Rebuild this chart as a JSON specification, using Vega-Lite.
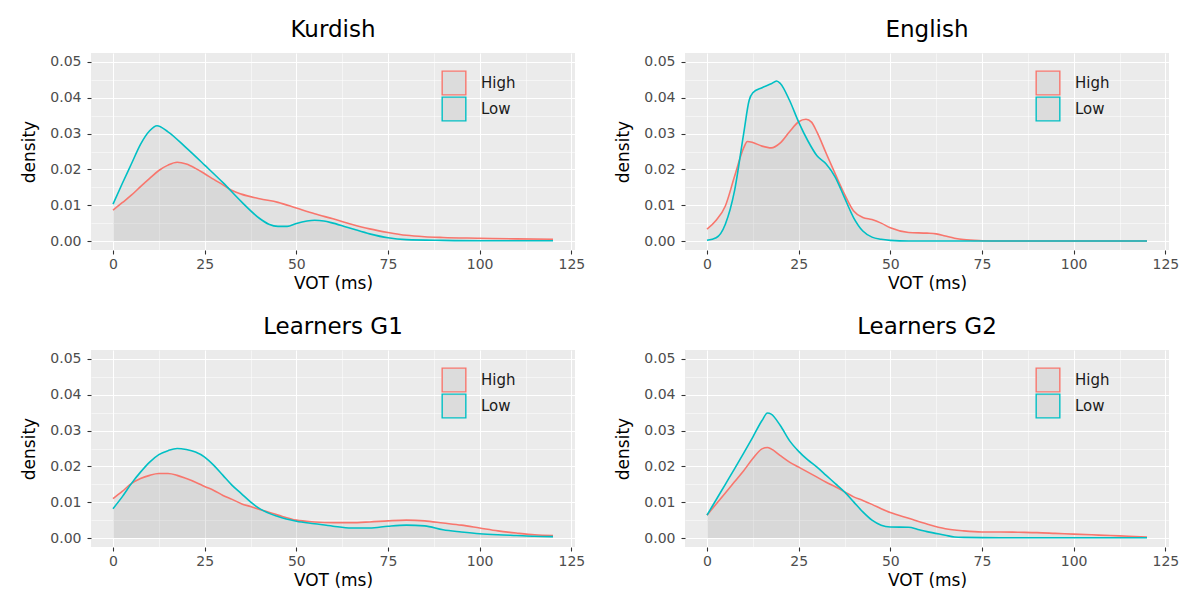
{
  "$schema": "https://vega.github.io/schema/vega-lite/v6.json",
  "background": "white",
  "padding": {"left": 20, "top": 19, "right": 5, "bottom": 0},
  "datasets": {
    "dens": [
      {"panel":"Kurdish","group":"High","vot":0,"density":0.0086},{"panel":"Kurdish","group":"High","vot":2.5,"density":0.0107},{"panel":"Kurdish","group":"High","vot":5,"density":0.0128},{"panel":"Kurdish","group":"High","vot":7.5,"density":0.0152},{"panel":"Kurdish","group":"High","vot":10,"density":0.0175},{"panel":"Kurdish","group":"High","vot":12.5,"density":0.0197},{"panel":"Kurdish","group":"High","vot":15,"density":0.0212},{"panel":"Kurdish","group":"High","vot":17.5,"density":0.022},{"panel":"Kurdish","group":"High","vot":20,"density":0.0215},{"panel":"Kurdish","group":"High","vot":22.5,"density":0.0203},{"panel":"Kurdish","group":"High","vot":25,"density":0.0188},{"panel":"Kurdish","group":"High","vot":27.5,"density":0.0172},{"panel":"Kurdish","group":"High","vot":30,"density":0.0157},{"panel":"Kurdish","group":"High","vot":32.5,"density":0.0141},{"panel":"Kurdish","group":"High","vot":35,"density":0.0131},{"panel":"Kurdish","group":"High","vot":40,"density":0.0118},{"panel":"Kurdish","group":"High","vot":45,"density":0.0108},{"panel":"Kurdish","group":"High","vot":50,"density":0.0092},{"panel":"Kurdish","group":"High","vot":55,"density":0.0076},{"panel":"Kurdish","group":"High","vot":60,"density":0.0062},{"panel":"Kurdish","group":"High","vot":65,"density":0.0047},{"panel":"Kurdish","group":"High","vot":70,"density":0.0034},{"panel":"Kurdish","group":"High","vot":75,"density":0.0024},{"panel":"Kurdish","group":"High","vot":80,"density":0.0016},{"panel":"Kurdish","group":"High","vot":85,"density":0.0012},{"panel":"Kurdish","group":"High","vot":90,"density":0.001},{"panel":"Kurdish","group":"High","vot":100,"density":0.0008},{"panel":"Kurdish","group":"High","vot":110,"density":0.0006},{"panel":"Kurdish","group":"High","vot":120,"density":0.0005},
      {"panel":"Kurdish","group":"Low","vot":0,"density":0.0103},{"panel":"Kurdish","group":"Low","vot":2.5,"density":0.016},{"panel":"Kurdish","group":"Low","vot":5,"density":0.0215},{"panel":"Kurdish","group":"Low","vot":7.5,"density":0.027},{"panel":"Kurdish","group":"Low","vot":10,"density":0.0308},{"panel":"Kurdish","group":"Low","vot":12,"density":0.0322},{"panel":"Kurdish","group":"Low","vot":15,"density":0.0305},{"panel":"Kurdish","group":"Low","vot":20,"density":0.026},{"panel":"Kurdish","group":"Low","vot":25,"density":0.0212},{"panel":"Kurdish","group":"Low","vot":30,"density":0.0163},{"panel":"Kurdish","group":"Low","vot":35,"density":0.011},{"panel":"Kurdish","group":"Low","vot":40,"density":0.0063},{"panel":"Kurdish","group":"Low","vot":42.5,"density":0.0047},{"panel":"Kurdish","group":"Low","vot":45,"density":0.0041},{"panel":"Kurdish","group":"Low","vot":47.5,"density":0.0041},{"panel":"Kurdish","group":"Low","vot":50,"density":0.0049},{"panel":"Kurdish","group":"Low","vot":55,"density":0.0058},{"panel":"Kurdish","group":"Low","vot":57.5,"density":0.0056},{"panel":"Kurdish","group":"Low","vot":60,"density":0.005},{"panel":"Kurdish","group":"Low","vot":65,"density":0.0035},{"panel":"Kurdish","group":"Low","vot":70,"density":0.002},{"panel":"Kurdish","group":"Low","vot":75,"density":0.0009},{"panel":"Kurdish","group":"Low","vot":80,"density":0.0004},{"panel":"Kurdish","group":"Low","vot":90,"density":0.0002},{"panel":"Kurdish","group":"Low","vot":100,"density":0.0001},{"panel":"Kurdish","group":"Low","vot":120,"density":0.0001},
      {"panel":"English","group":"High","vot":0,"density":0.0033},{"panel":"English","group":"High","vot":2.5,"density":0.0058},{"panel":"English","group":"High","vot":5,"density":0.0098},{"panel":"English","group":"High","vot":7.5,"density":0.018},{"panel":"English","group":"High","vot":10,"density":0.026},{"panel":"English","group":"High","vot":11,"density":0.0278},{"panel":"English","group":"High","vot":12.5,"density":0.0275},{"panel":"English","group":"High","vot":15,"density":0.0265},{"panel":"English","group":"High","vot":17.5,"density":0.026},{"panel":"English","group":"High","vot":20,"density":0.0274},{"panel":"English","group":"High","vot":22.5,"density":0.0305},{"panel":"English","group":"High","vot":25,"density":0.0333},{"panel":"English","group":"High","vot":27,"density":0.034},{"panel":"English","group":"High","vot":28.5,"density":0.0332},{"panel":"English","group":"High","vot":30,"density":0.0304},{"panel":"English","group":"High","vot":32.5,"density":0.0245},{"panel":"English","group":"High","vot":35,"density":0.0187},{"panel":"English","group":"High","vot":37.5,"density":0.0131},{"panel":"English","group":"High","vot":40,"density":0.0084},{"panel":"English","group":"High","vot":42.5,"density":0.0066},{"panel":"English","group":"High","vot":45,"density":0.006},{"panel":"English","group":"High","vot":47.5,"density":0.005},{"panel":"English","group":"High","vot":50,"density":0.0037},{"panel":"English","group":"High","vot":55,"density":0.0024},{"panel":"English","group":"High","vot":60,"density":0.0022},{"panel":"English","group":"High","vot":62.5,"density":0.002},{"panel":"English","group":"High","vot":65,"density":0.0014},{"panel":"English","group":"High","vot":67.5,"density":0.0008},{"panel":"English","group":"High","vot":70,"density":0.0004},{"panel":"English","group":"High","vot":75,"density":0.0001},{"panel":"English","group":"High","vot":80,"density":0},{"panel":"English","group":"High","vot":100,"density":0},{"panel":"English","group":"High","vot":120,"density":0},
      {"panel":"English","group":"Low","vot":0,"density":0.0002},{"panel":"English","group":"Low","vot":2.5,"density":0.0009},{"panel":"English","group":"Low","vot":5,"density":0.0047},{"panel":"English","group":"Low","vot":7.5,"density":0.014},{"panel":"English","group":"Low","vot":10,"density":0.03},{"panel":"English","group":"Low","vot":11.5,"density":0.0393},{"panel":"English","group":"Low","vot":12.5,"density":0.0414},{"panel":"English","group":"Low","vot":15,"density":0.0428},{"panel":"English","group":"Low","vot":17.5,"density":0.0439},{"panel":"English","group":"Low","vot":19,"density":0.0447},{"panel":"English","group":"Low","vot":20,"density":0.044},{"panel":"English","group":"Low","vot":22.5,"density":0.0393},{"panel":"English","group":"Low","vot":25,"density":0.0332},{"panel":"English","group":"Low","vot":27.5,"density":0.028},{"panel":"English","group":"Low","vot":30,"density":0.0238},{"panel":"English","group":"Low","vot":32.5,"density":0.0215},{"panel":"English","group":"Low","vot":35,"density":0.0178},{"panel":"English","group":"Low","vot":37.5,"density":0.0121},{"panel":"English","group":"Low","vot":40,"density":0.0065},{"panel":"English","group":"Low","vot":42.5,"density":0.0028},{"panel":"English","group":"Low","vot":45,"density":0.0011},{"panel":"English","group":"Low","vot":47.5,"density":0.0005},{"panel":"English","group":"Low","vot":50,"density":0.0002},{"panel":"English","group":"Low","vot":55,"density":0},{"panel":"English","group":"Low","vot":80,"density":0},{"panel":"English","group":"Low","vot":100,"density":0},{"panel":"English","group":"Low","vot":120,"density":0},
      {"panel":"Learners G1","group":"High","vot":0,"density":0.011},{"panel":"Learners G1","group":"High","vot":2.5,"density":0.013},{"panel":"Learners G1","group":"High","vot":5,"density":0.0152},{"panel":"Learners G1","group":"High","vot":7.5,"density":0.0166},{"panel":"Learners G1","group":"High","vot":10,"density":0.0175},{"panel":"Learners G1","group":"High","vot":12.5,"density":0.018},{"panel":"Learners G1","group":"High","vot":15,"density":0.018},{"panel":"Learners G1","group":"High","vot":17.5,"density":0.0175},{"panel":"Learners G1","group":"High","vot":20,"density":0.0166},{"panel":"Learners G1","group":"High","vot":22.5,"density":0.0156},{"panel":"Learners G1","group":"High","vot":25,"density":0.0144},{"panel":"Learners G1","group":"High","vot":27.5,"density":0.0133},{"panel":"Learners G1","group":"High","vot":30,"density":0.0119},{"panel":"Learners G1","group":"High","vot":32.5,"density":0.0108},{"panel":"Learners G1","group":"High","vot":35,"density":0.0096},{"panel":"Learners G1","group":"High","vot":37.5,"density":0.0088},{"panel":"Learners G1","group":"High","vot":40,"density":0.008},{"panel":"Learners G1","group":"High","vot":45,"density":0.0064},{"panel":"Learners G1","group":"High","vot":50,"density":0.005},{"panel":"Learners G1","group":"High","vot":55,"density":0.0045},{"panel":"Learners G1","group":"High","vot":60,"density":0.0043},{"panel":"Learners G1","group":"High","vot":65,"density":0.0043},{"panel":"Learners G1","group":"High","vot":70,"density":0.0045},{"panel":"Learners G1","group":"High","vot":75,"density":0.0048},{"panel":"Learners G1","group":"High","vot":80,"density":0.005},{"panel":"Learners G1","group":"High","vot":85,"density":0.0048},{"panel":"Learners G1","group":"High","vot":90,"density":0.0042},{"panel":"Learners G1","group":"High","vot":95,"density":0.0036},{"panel":"Learners G1","group":"High","vot":100,"density":0.0028},{"panel":"Learners G1","group":"High","vot":105,"density":0.002},{"panel":"Learners G1","group":"High","vot":110,"density":0.0014},{"panel":"Learners G1","group":"High","vot":115,"density":0.0009},{"panel":"Learners G1","group":"High","vot":120,"density":0.0007},
      {"panel":"Learners G1","group":"Low","vot":0,"density":0.0082},{"panel":"Learners G1","group":"Low","vot":2.5,"density":0.0115},{"panel":"Learners G1","group":"Low","vot":5,"density":0.0152},{"panel":"Learners G1","group":"Low","vot":7.5,"density":0.0184},{"panel":"Learners G1","group":"Low","vot":10,"density":0.0212},{"panel":"Learners G1","group":"Low","vot":12.5,"density":0.0233},{"panel":"Learners G1","group":"Low","vot":15,"density":0.0244},{"panel":"Learners G1","group":"Low","vot":17.5,"density":0.025},{"panel":"Learners G1","group":"Low","vot":20,"density":0.0247},{"panel":"Learners G1","group":"Low","vot":22.5,"density":0.024},{"panel":"Learners G1","group":"Low","vot":25,"density":0.0226},{"panel":"Learners G1","group":"Low","vot":27.5,"density":0.0203},{"panel":"Learners G1","group":"Low","vot":30,"density":0.0175},{"panel":"Learners G1","group":"Low","vot":32.5,"density":0.0147},{"panel":"Learners G1","group":"Low","vot":35,"density":0.0124},{"panel":"Learners G1","group":"Low","vot":37.5,"density":0.0101},{"panel":"Learners G1","group":"Low","vot":40,"density":0.0082},{"panel":"Learners G1","group":"Low","vot":45,"density":0.006},{"panel":"Learners G1","group":"Low","vot":50,"density":0.0047},{"panel":"Learners G1","group":"Low","vot":55,"density":0.004},{"panel":"Learners G1","group":"Low","vot":60,"density":0.0033},{"panel":"Learners G1","group":"Low","vot":65,"density":0.0028},{"panel":"Learners G1","group":"Low","vot":70,"density":0.0028},{"panel":"Learners G1","group":"Low","vot":75,"density":0.0033},{"panel":"Learners G1","group":"Low","vot":80,"density":0.0036},{"panel":"Learners G1","group":"Low","vot":85,"density":0.0034},{"panel":"Learners G1","group":"Low","vot":90,"density":0.0023},{"panel":"Learners G1","group":"Low","vot":95,"density":0.0017},{"panel":"Learners G1","group":"Low","vot":100,"density":0.0012},{"panel":"Learners G1","group":"Low","vot":105,"density":0.0009},{"panel":"Learners G1","group":"Low","vot":110,"density":0.0007},{"panel":"Learners G1","group":"Low","vot":115,"density":0.0005},{"panel":"Learners G1","group":"Low","vot":120,"density":0.0004},
      {"panel":"Learners G2","group":"High","vot":0,"density":0.0064},{"panel":"Learners G2","group":"High","vot":2.5,"density":0.0095},{"panel":"Learners G2","group":"High","vot":5,"density":0.0126},{"panel":"Learners G2","group":"High","vot":7.5,"density":0.0157},{"panel":"Learners G2","group":"High","vot":10,"density":0.0188},{"panel":"Learners G2","group":"High","vot":12.5,"density":0.0222},{"panel":"Learners G2","group":"High","vot":15,"density":0.0249},{"panel":"Learners G2","group":"High","vot":16.5,"density":0.0253},{"panel":"Learners G2","group":"High","vot":17.5,"density":0.0249},{"panel":"Learners G2","group":"High","vot":20,"density":0.023},{"panel":"Learners G2","group":"High","vot":22.5,"density":0.0212},{"panel":"Learners G2","group":"High","vot":25,"density":0.0198},{"panel":"Learners G2","group":"High","vot":27.5,"density":0.0184},{"panel":"Learners G2","group":"High","vot":30,"density":0.017},{"panel":"Learners G2","group":"High","vot":32.5,"density":0.0156},{"panel":"Learners G2","group":"High","vot":35,"density":0.0143},{"panel":"Learners G2","group":"High","vot":37.5,"density":0.0129},{"panel":"Learners G2","group":"High","vot":40,"density":0.0115},{"panel":"Learners G2","group":"High","vot":42.5,"density":0.0105},{"panel":"Learners G2","group":"High","vot":45,"density":0.0094},{"panel":"Learners G2","group":"High","vot":47.5,"density":0.0082},{"panel":"Learners G2","group":"High","vot":50,"density":0.0071},{"panel":"Learners G2","group":"High","vot":55,"density":0.0055},{"panel":"Learners G2","group":"High","vot":60,"density":0.0039},{"panel":"Learners G2","group":"High","vot":65,"density":0.0026},{"panel":"Learners G2","group":"High","vot":70,"density":0.002},{"panel":"Learners G2","group":"High","vot":75,"density":0.0017},{"panel":"Learners G2","group":"High","vot":80,"density":0.0017},{"panel":"Learners G2","group":"High","vot":85,"density":0.0016},{"panel":"Learners G2","group":"High","vot":90,"density":0.0015},{"panel":"Learners G2","group":"High","vot":95,"density":0.0013},{"panel":"Learners G2","group":"High","vot":100,"density":0.0011},{"panel":"Learners G2","group":"High","vot":105,"density":0.0009},{"panel":"Learners G2","group":"High","vot":110,"density":0.0007},{"panel":"Learners G2","group":"High","vot":115,"density":0.0005},{"panel":"Learners G2","group":"High","vot":120,"density":0.0003},
      {"panel":"Learners G2","group":"Low","vot":0,"density":0.0064},{"panel":"Learners G2","group":"Low","vot":2.5,"density":0.0107},{"panel":"Learners G2","group":"Low","vot":5,"density":0.015},{"panel":"Learners G2","group":"Low","vot":7.5,"density":0.0193},{"panel":"Learners G2","group":"Low","vot":10,"density":0.0237},{"panel":"Learners G2","group":"Low","vot":12.5,"density":0.0282},{"panel":"Learners G2","group":"Low","vot":15,"density":0.0328},{"panel":"Learners G2","group":"Low","vot":16.5,"density":0.0349},{"panel":"Learners G2","group":"Low","vot":17.5,"density":0.0346},{"panel":"Learners G2","group":"Low","vot":20,"density":0.0314},{"panel":"Learners G2","group":"Low","vot":22.5,"density":0.0272},{"panel":"Learners G2","group":"Low","vot":25,"density":0.0242},{"panel":"Learners G2","group":"Low","vot":27.5,"density":0.0218},{"panel":"Learners G2","group":"Low","vot":30,"density":0.0198},{"panel":"Learners G2","group":"Low","vot":32.5,"density":0.0175},{"panel":"Learners G2","group":"Low","vot":35,"density":0.0152},{"panel":"Learners G2","group":"Low","vot":37.5,"density":0.0129},{"panel":"Learners G2","group":"Low","vot":40,"density":0.0101},{"panel":"Learners G2","group":"Low","vot":42.5,"density":0.0073},{"panel":"Learners G2","group":"Low","vot":45,"density":0.005},{"panel":"Learners G2","group":"Low","vot":47.5,"density":0.0036},{"panel":"Learners G2","group":"Low","vot":50,"density":0.0031},{"panel":"Learners G2","group":"Low","vot":55,"density":0.003},{"panel":"Learners G2","group":"Low","vot":57.5,"density":0.0024},{"panel":"Learners G2","group":"Low","vot":60,"density":0.0018},{"panel":"Learners G2","group":"Low","vot":65,"density":0.0008},{"panel":"Learners G2","group":"Low","vot":67.5,"density":0.0003},{"panel":"Learners G2","group":"Low","vot":70,"density":0.0002},{"panel":"Learners G2","group":"Low","vot":80,"density":0.0001},{"panel":"Learners G2","group":"Low","vot":120,"density":0.0001}
    ]
  },
  "data": {"name": "dens"},
  "columns": 2,
  "bounds": "flush",
  "spacing": {"row": 100, "column": 110},
  "resolve": {"legend": {"stroke": "independent"}},
  "concat": [
    {
      "title": "Kurdish", "width": 484, "height": 197,
      "transform": [{"filter": "datum.panel === 'Kurdish'"}],
      "resolve": {"axis": {"x": "independent", "y": "independent"}},
      "layer": [
        {"mark": {"type": "line", "opacity": 0},
         "encoding": {
           "x": {"field": "vot", "type": "quantitative", "scale": {"domain": [-6, 126], "nice": false, "zero": false},
                 "axis": {"orient": "top", "title": null, "values": [12.5,37.5,62.5,87.5,112.5], "labels": false, "ticks": false, "domain": false, "grid": true, "gridWidth": 0.5}},
           "y": {"field": "density", "type": "quantitative", "scale": {"domain": [-0.0025, 0.0525], "nice": false, "zero": false},
                 "axis": {"orient": "right", "title": null, "values": [0.005,0.015,0.025,0.035,0.045], "labels": false, "ticks": false, "domain": false, "grid": true, "gridWidth": 0.5}},
           "detail": {"field": "group"}
         }},
        {"mark": {"type": "area", "interpolate": "monotone", "fill": "#999999", "fillOpacity": 0.12},
         "encoding": {
           "x": {"field": "vot", "type": "quantitative", "axis": {"orient": "bottom", "title": "VOT (ms)", "values": [0,25,50,75,100,125], "format": "d", "grid": true, "gridWidth": 1.1}},
           "y": {"field": "density", "type": "quantitative", "stack": null, "axis": {"orient": "left", "title": "density", "values": [0,0.01,0.02,0.03,0.04,0.05], "format": ".2f", "grid": true, "gridWidth": 1.1, "labelPadding": 6}},
           "y2": {"datum": 0},
           "detail": {"field": "group"}
         }},
        {"mark": {"type": "line", "interpolate": "monotone", "strokeWidth": 1.6},
         "encoding": {
           "x": {"field": "vot", "type": "quantitative", "axis": null},
           "y": {"field": "density", "type": "quantitative", "axis": null},
           "stroke": {"field": "group", "type": "nominal", "scale": {"domain": ["High", "Low"], "range": ["#F8766D", "#00BFC4"]},
                      "legend": {"title": null, "orient": "none", "legendX": 350, "legendY": 17, "clipHeight": 26}}
         }}
      ]
    },
    {
      "title": "English", "width": 484, "height": 197,
      "transform": [{"filter": "datum.panel === 'English'"}],
      "resolve": {"axis": {"x": "independent", "y": "independent"}},
      "layer": [
        {"mark": {"type": "line", "opacity": 0},
         "encoding": {
           "x": {"field": "vot", "type": "quantitative", "scale": {"domain": [-6, 126], "nice": false, "zero": false},
                 "axis": {"orient": "top", "title": null, "values": [12.5,37.5,62.5,87.5,112.5], "labels": false, "ticks": false, "domain": false, "grid": true, "gridWidth": 0.5}},
           "y": {"field": "density", "type": "quantitative", "scale": {"domain": [-0.0025, 0.0525], "nice": false, "zero": false},
                 "axis": {"orient": "right", "title": null, "values": [0.005,0.015,0.025,0.035,0.045], "labels": false, "ticks": false, "domain": false, "grid": true, "gridWidth": 0.5}},
           "detail": {"field": "group"}
         }},
        {"mark": {"type": "area", "interpolate": "monotone", "fill": "#999999", "fillOpacity": 0.12},
         "encoding": {
           "x": {"field": "vot", "type": "quantitative", "axis": {"orient": "bottom", "title": "VOT (ms)", "values": [0,25,50,75,100,125], "format": "d", "grid": true, "gridWidth": 1.1}},
           "y": {"field": "density", "type": "quantitative", "stack": null, "axis": {"orient": "left", "title": "density", "values": [0,0.01,0.02,0.03,0.04,0.05], "format": ".2f", "grid": true, "gridWidth": 1.1, "labelPadding": 6}},
           "y2": {"datum": 0},
           "detail": {"field": "group"}
         }},
        {"mark": {"type": "line", "interpolate": "monotone", "strokeWidth": 1.6},
         "encoding": {
           "x": {"field": "vot", "type": "quantitative", "axis": null},
           "y": {"field": "density", "type": "quantitative", "axis": null},
           "stroke": {"field": "group", "type": "nominal", "scale": {"domain": ["High", "Low"], "range": ["#F8766D", "#00BFC4"]},
                      "legend": {"title": null, "orient": "none", "legendX": 350, "legendY": 17, "clipHeight": 26}}
         }}
      ]
    },
    {
      "title": "Learners G1", "width": 484, "height": 197,
      "transform": [{"filter": "datum.panel === 'Learners G1'"}],
      "resolve": {"axis": {"x": "independent", "y": "independent"}},
      "layer": [
        {"mark": {"type": "line", "opacity": 0},
         "encoding": {
           "x": {"field": "vot", "type": "quantitative", "scale": {"domain": [-6, 126], "nice": false, "zero": false},
                 "axis": {"orient": "top", "title": null, "values": [12.5,37.5,62.5,87.5,112.5], "labels": false, "ticks": false, "domain": false, "grid": true, "gridWidth": 0.5}},
           "y": {"field": "density", "type": "quantitative", "scale": {"domain": [-0.0025, 0.0525], "nice": false, "zero": false},
                 "axis": {"orient": "right", "title": null, "values": [0.005,0.015,0.025,0.035,0.045], "labels": false, "ticks": false, "domain": false, "grid": true, "gridWidth": 0.5}},
           "detail": {"field": "group"}
         }},
        {"mark": {"type": "area", "interpolate": "monotone", "fill": "#999999", "fillOpacity": 0.12},
         "encoding": {
           "x": {"field": "vot", "type": "quantitative", "axis": {"orient": "bottom", "title": "VOT (ms)", "values": [0,25,50,75,100,125], "format": "d", "grid": true, "gridWidth": 1.1}},
           "y": {"field": "density", "type": "quantitative", "stack": null, "axis": {"orient": "left", "title": "density", "values": [0,0.01,0.02,0.03,0.04,0.05], "format": ".2f", "grid": true, "gridWidth": 1.1, "labelPadding": 6}},
           "y2": {"datum": 0},
           "detail": {"field": "group"}
         }},
        {"mark": {"type": "line", "interpolate": "monotone", "strokeWidth": 1.6},
         "encoding": {
           "x": {"field": "vot", "type": "quantitative", "axis": null},
           "y": {"field": "density", "type": "quantitative", "axis": null},
           "stroke": {"field": "group", "type": "nominal", "scale": {"domain": ["High", "Low"], "range": ["#F8766D", "#00BFC4"]},
                      "legend": {"title": null, "orient": "none", "legendX": 350, "legendY": 17, "clipHeight": 26}}
         }}
      ]
    },
    {
      "title": "Learners G2", "width": 484, "height": 197,
      "transform": [{"filter": "datum.panel === 'Learners G2'"}],
      "resolve": {"axis": {"x": "independent", "y": "independent"}},
      "layer": [
        {"mark": {"type": "line", "opacity": 0},
         "encoding": {
           "x": {"field": "vot", "type": "quantitative", "scale": {"domain": [-6, 126], "nice": false, "zero": false},
                 "axis": {"orient": "top", "title": null, "values": [12.5,37.5,62.5,87.5,112.5], "labels": false, "ticks": false, "domain": false, "grid": true, "gridWidth": 0.5}},
           "y": {"field": "density", "type": "quantitative", "scale": {"domain": [-0.0025, 0.0525], "nice": false, "zero": false},
                 "axis": {"orient": "right", "title": null, "values": [0.005,0.015,0.025,0.035,0.045], "labels": false, "ticks": false, "domain": false, "grid": true, "gridWidth": 0.5}},
           "detail": {"field": "group"}
         }},
        {"mark": {"type": "area", "interpolate": "monotone", "fill": "#999999", "fillOpacity": 0.12},
         "encoding": {
           "x": {"field": "vot", "type": "quantitative", "axis": {"orient": "bottom", "title": "VOT (ms)", "values": [0,25,50,75,100,125], "format": "d", "grid": true, "gridWidth": 1.1}},
           "y": {"field": "density", "type": "quantitative", "stack": null, "axis": {"orient": "left", "title": "density", "values": [0,0.01,0.02,0.03,0.04,0.05], "format": ".2f", "grid": true, "gridWidth": 1.1, "labelPadding": 6}},
           "y2": {"datum": 0},
           "detail": {"field": "group"}
         }},
        {"mark": {"type": "line", "interpolate": "monotone", "strokeWidth": 1.6},
         "encoding": {
           "x": {"field": "vot", "type": "quantitative", "axis": null},
           "y": {"field": "density", "type": "quantitative", "axis": null},
           "stroke": {"field": "group", "type": "nominal", "scale": {"domain": ["High", "Low"], "range": ["#F8766D", "#00BFC4"]},
                      "legend": {"title": null, "orient": "none", "legendX": 350, "legendY": 17, "clipHeight": 26}}
         }}
      ]
    }
  ],
  "config": {
    "font": "DejaVu Sans",
    "view": {"fill": "#EBEBEB", "stroke": null},
    "axis": {"domain": false, "gridColor": "#FFFFFF", "tickColor": "#333333", "tickSize": 4, "tickWidth": 1.1, "labelColor": "#4D4D4D", "labelFontSize": 14, "labelPadding": 3, "labelOverlap": false, "labelBound": false, "titleFontSize": 17, "titleFontWeight": "normal", "titleColor": "#000000", "labelFont": "DejaVu Sans", "titleFont": "DejaVu Sans"},
    "axisX": {"titlePadding": 4},
    "axisY": {"titlePadding": 11},
    "title": {"fontSize": 23, "fontWeight": "normal", "color": "#000000", "offset": 11, "anchor": "middle", "font": "DejaVu Sans"},
    "legend": {"symbolType": "square", "symbolSize": 560, "symbolStrokeWidth": 1.4, "symbolFillColor": "#DCDCDC", "symbolOpacity": 1, "labelFontSize": 15, "labelColor": "#1A1A1A", "rowPadding": 0, "labelOffset": 14, "padding": 0, "labelFont": "DejaVu Sans"}
  }
}
